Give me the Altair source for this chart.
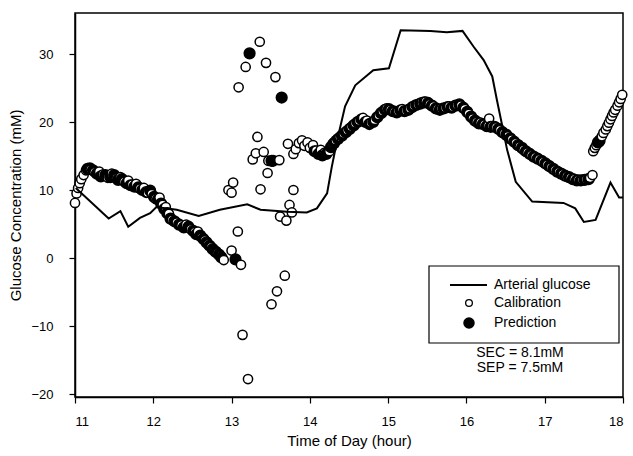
import altair as alt
import pandas as pd

# Arterial glucose reference line
art_t = [11.01, 11.43, 11.58, 11.68, 11.83, 11.96, 12.04, 12.30, 12.58, 12.85, 13.20, 13.37,
         13.71, 13.96, 14.09, 14.22, 14.28, 14.35, 14.45, 14.58, 14.81, 15.01, 15.16, 15.54,
         15.75, 15.95, 16.09, 16.22, 16.33, 16.39, 16.46, 16.52, 16.63, 16.84, 17.24, 17.39,
         17.50, 17.65, 17.84, 17.95, 18.00]
art_g = [10.3, 5.8, 6.9, 4.6, 5.9, 6.6, 7.5, 7.1, 6.2, 7.1, 7.9, 7.1,
         6.8, 6.7, 7.3, 9.5, 13.4, 17.4, 22.3, 25.4, 27.6, 27.9, 33.5, 33.4,
         33.2, 33.4, 31.1, 29.1, 26.7, 23.2, 19.3, 15.9, 11.2, 8.3, 8.1, 7.3,
         5.3, 5.6, 11.1, 8.9, 8.9]

# Calibration (open circles)
cal_t = [11.00, 11.02, 11.04, 11.06, 11.08, 11.11, 11.14, 11.20, 11.25, 11.31, 11.36, 11.42,
         11.47, 11.53, 11.58, 11.63, 11.68, 11.73, 11.78, 11.83, 11.88, 11.93, 11.98, 12.03,
         12.08, 12.12, 12.16, 12.20, 12.24, 12.30, 12.36, 12.42, 12.48, 12.53, 12.57, 12.62,
         12.66, 12.70, 12.74, 12.78, 12.82, 12.86, 12.90,
         13.36, 13.18, 13.44, 13.56, 13.09, 13.33, 13.31, 13.27, 13.41, 13.47, 13.61, 13.46,
         13.72, 13.02, 12.96, 13.00, 13.37, 13.79, 13.74, 13.77, 13.62, 13.70, 13.08, 13.00,
         13.12, 13.68, 13.58, 13.51, 13.14, 13.21,
         13.79, 13.82, 13.86, 13.90, 13.93, 13.97, 14.00, 14.04, 14.08, 14.14, 14.19, 14.25,
         14.29, 14.33, 14.38, 14.43, 14.48, 14.53, 14.58, 14.63, 14.68, 14.73, 14.78, 14.83,
         14.88, 14.93, 14.98, 15.03, 15.08, 15.13, 15.18, 15.23, 15.28, 15.33, 15.38, 15.43,
         15.48, 15.53, 15.58, 15.63, 15.68, 15.73, 15.78, 15.83, 15.88, 15.93, 15.98, 16.03,
         16.08, 16.13, 16.18, 16.23, 16.28, 16.29, 16.33, 16.38, 16.43, 16.48, 16.53, 16.58,
         16.63, 16.68, 16.73, 16.78, 16.83, 16.88, 16.93, 16.98, 17.03, 17.08, 17.13, 17.18,
         17.23, 17.28, 17.33, 17.38, 17.43, 17.48, 17.53, 17.58, 17.61,
         17.62, 17.64, 17.66, 17.70, 17.73, 17.75, 17.78, 17.80, 17.82, 17.84, 17.86, 17.88,
         17.90, 17.93, 17.95, 17.97, 17.99]
cal_g = [8.1, 9.5, 10.3, 11.0, 11.6, 12.2, 12.9, 13.0, 12.6, 12.7, 12.3, 11.8,
         12.4, 11.7, 11.9, 11.2, 11.4, 10.8, 10.9, 10.2, 10.3, 9.6, 9.4, 8.7,
         8.9, 7.8, 7.5, 6.5, 5.6, 5.2, 4.8, 4.9, 4.2, 3.8, 3.9, 3.0,
         2.6, 2.0, 1.6, 1.0, 0.7, 0.3, -0.3,
         31.8, 28.1, 28.7, 26.6, 25.1, 17.8, 15.4, 14.5, 15.6, 14.3, 14.4, 12.5,
         16.8, 11.1, 10.0, 9.6, 10.1, 10.0, 7.8, 6.7, 6.1, 5.5, 3.9, 1.1,
         -1.0, -2.6, -4.9, -6.8, -11.3, -17.8,
         15.3, 16.0, 16.9, 17.3, 16.5, 17.0, 16.2, 16.6, 15.8, 15.9, 15.5, 15.7,
         16.8, 17.3, 17.8, 18.3, 18.8, 19.3, 19.8, 20.2, 20.6, 20.2, 19.9, 20.3,
         21.0, 21.6, 22.0, 21.8, 21.5, 21.6, 21.9, 21.7, 22.0, 22.4, 22.6, 22.9,
         23.0, 22.6, 22.3, 21.9, 22.0, 22.1, 22.3, 22.2, 22.5, 22.4, 21.9, 21.2,
         20.5, 20.0, 19.9, 19.6, 19.5, 20.5, 19.4, 19.2, 18.8, 18.3, 17.9, 17.4,
         16.9, 16.4, 15.9, 15.5, 15.1, 14.8, 14.5, 14.1, 13.7, 13.3, 12.9, 12.6,
         12.3, 12.0, 11.8, 11.6, 11.5, 11.5, 11.6, 11.8, 12.2,
         15.7, 16.2, 16.6, 17.4, 17.9, 18.4, 18.9, 19.4, 19.9, 20.4, 20.9, 21.4,
         21.8, 22.4, 22.9, 23.4, 24.0]

# Prediction (filled circles)
pred_t = [11.16, 11.19, 11.23, 11.28, 11.33, 11.39, 11.45, 11.50, 11.55, 11.60, 11.66, 11.71,
          11.76, 11.81, 11.86, 11.91, 11.96, 12.01, 12.06, 12.10, 12.14, 12.18, 12.22, 12.27,
          12.33, 12.39, 12.45, 12.51, 12.55, 12.60, 12.64, 12.68, 12.72, 12.76, 12.80, 12.84,
          12.87,
          13.23, 13.64, 13.51, 13.53, 13.05,
          14.06, 14.11, 14.16, 14.21, 14.27, 14.31, 14.36, 14.41, 14.46, 14.51, 14.56, 14.61,
          14.66, 14.71, 14.76, 14.81, 14.86, 14.91, 14.96, 15.01, 15.06, 15.11, 15.16, 15.21,
          15.26, 15.31, 15.36, 15.41, 15.46, 15.51, 15.56, 15.61, 15.66, 15.71, 15.76, 15.81,
          15.86, 15.91, 15.96, 16.01, 16.06, 16.11, 16.16, 16.21, 16.26, 16.31, 16.36, 16.41,
          16.46, 16.51, 16.56, 16.61, 16.66, 16.71, 16.76, 16.81, 16.86, 16.91, 16.96, 17.01,
          17.06, 17.11, 17.16, 17.21, 17.26, 17.31, 17.36, 17.41, 17.46, 17.51, 17.56,
          17.68, 17.70]
pred_g = [13.1, 13.2, 12.9, 12.4, 12.0, 12.2, 11.9, 12.2, 11.5, 11.6, 11.0, 10.7,
          10.5, 10.4, 10.0, 9.7, 9.9, 9.0, 8.6, 8.0, 7.2, 6.6, 5.8, 5.4,
          4.9, 4.5, 4.6, 4.0, 3.5, 3.3, 2.8, 2.3, 1.8, 1.3, 0.9, 0.5,
          0.1,
          30.1, 23.6, 14.3, 14.3, -0.2,
          15.7, 15.3, 15.1, 15.3, 16.3, 16.9, 17.5, 18.0, 18.5, 19.0, 19.5, 20.0,
          20.4, 20.0, 19.7, 20.0, 20.7, 21.3, 21.8, 21.9, 21.6, 21.4, 21.7, 21.6,
          21.8, 22.2, 22.5, 22.7, 22.9, 22.8, 22.4, 22.0, 21.8, 22.0, 22.2, 22.1,
          22.4, 22.6, 22.1, 21.5, 20.8, 20.2, 19.8, 19.7, 19.4, 19.3, 19.3, 19.0,
          18.5, 18.1, 17.6, 17.1, 16.6, 16.2, 15.7, 15.3, 14.9, 14.6, 14.3, 13.9,
          13.5, 13.1, 12.7, 12.4, 12.1, 11.9, 11.6, 11.4, 11.4, 11.5, 11.6,
          17.0, 17.2]

series_names = ["Arterial glucose", "Calibration", "Prediction"]
stats_text = ["SEC = 8.1mM", "SEP = 7.5mM"]

FONT = "Liberation Sans"

line_df = pd.DataFrame({"t": art_t, "g": art_g})
pts_df = pd.concat([
    pd.DataFrame({"t": cal_t, "g": cal_g, "series": "Calibration"}),
    pd.DataFrame({"t": pred_t, "g": pred_g, "series": "Prediction"}),
]).sort_values("t", kind="stable").reset_index(drop=True)

xscale = alt.Scale(domain=[11, 18], nice=False, zero=False)
yscale = alt.Scale(domain=[-20.44, 36.03], nice=False, zero=False)

xaxis = alt.Axis(title="Time of Day (hour)", values=list(range(11, 19)), format="d",
                 labelPadding=12, titlePadding=5)
yaxis = alt.Axis(title="Glucose Concentration (mM)", values=[-20, -10, 0, 10, 20, 30],
                 format="d", labelPadding=16, titlePadding=7)

points = alt.Chart(pts_df).mark_point(filled=True, opacity=1, strokeWidth=1.5).encode(
    x=alt.X("t:Q", scale=xscale, axis=xaxis),
    y=alt.Y("g:Q", scale=yscale, axis=yaxis),
    fill=alt.Fill("series:N", scale=alt.Scale(domain=series_names[1:],
                                              range=["white", "black"]), legend=None),
    size=alt.Size("series:N", scale=alt.Scale(type="ordinal", domain=series_names[1:],
                                              range=[85, 115]), legend=None),
    stroke=alt.value("black"),
)

line = alt.Chart(line_df).mark_line(color="black", strokeWidth=2).encode(
    x=alt.X("t:Q", scale=xscale),
    y=alt.Y("g:Q", scale=yscale),
)

# ---- legend (drawn by hand, plot-area pixel offsets) ----
one = pd.DataFrame({"k": [0]})
leg_box = alt.Chart(one).mark_rect(fill="white", stroke="black", strokeWidth=1.2).encode(
    x=alt.value(354), x2=alt.value(544), y=alt.value(253), y2=alt.value(330))
leg_line = alt.Chart(one).mark_rule(color="black", strokeWidth=2).encode(
    x=alt.value(375), x2=alt.value(412), y=alt.value(272))
leg_open = alt.Chart(one).mark_point(filled=True, fill="white", stroke="black",
                                     strokeWidth=1.3, size=45, opacity=1).encode(
    x=alt.value(394), y=alt.value(290))
leg_fill = alt.Chart(one).mark_point(filled=True, fill="black", stroke="black",
                                     size=90, opacity=1).encode(
    x=alt.value(394), y=alt.value(310))
leg_txt = [
    alt.Chart(pd.DataFrame({"label": [name]})).mark_text(
        font=FONT, fontSize=14, color="black", align="left", baseline="middle").encode(
        x=alt.value(419), y=alt.value(yy), text="label:N")
    for name, yy in zip(series_names, [272, 290, 310])
]
stat_txt = [
    alt.Chart(pd.DataFrame({"label": [s]})).mark_text(
        font=FONT, fontSize=14, color="black", align="center", baseline="middle").encode(
        x=alt.value(445), y=alt.value(yy), text="label:N")
    for s, yy in zip(stats_text, [340, 355])
]

chart = alt.layer(points, line, leg_box, leg_line, leg_open, leg_fill,
                  *leg_txt, *stat_txt).properties(
    width=548, height=384,
    autosize=alt.AutoSizeParams(type="none"),
    padding={"left": 75, "top": 13, "right": 10, "bottom": 59},
    background="white",
).configure_view(stroke="black", strokeWidth=1.5).configure_axis(
    grid=False, domainColor="black", domainWidth=1.5, tickColor="black", tickSize=6,
    tickWidth=1.2, labelFont=FONT, labelFontSize=13, labelColor="black",
    titleFont=FONT, titleFontSize=15, titleFontWeight="normal", titleColor="black",
)

chart.save("out.html", embed_options={"renderer": "svg", "actions": False})
